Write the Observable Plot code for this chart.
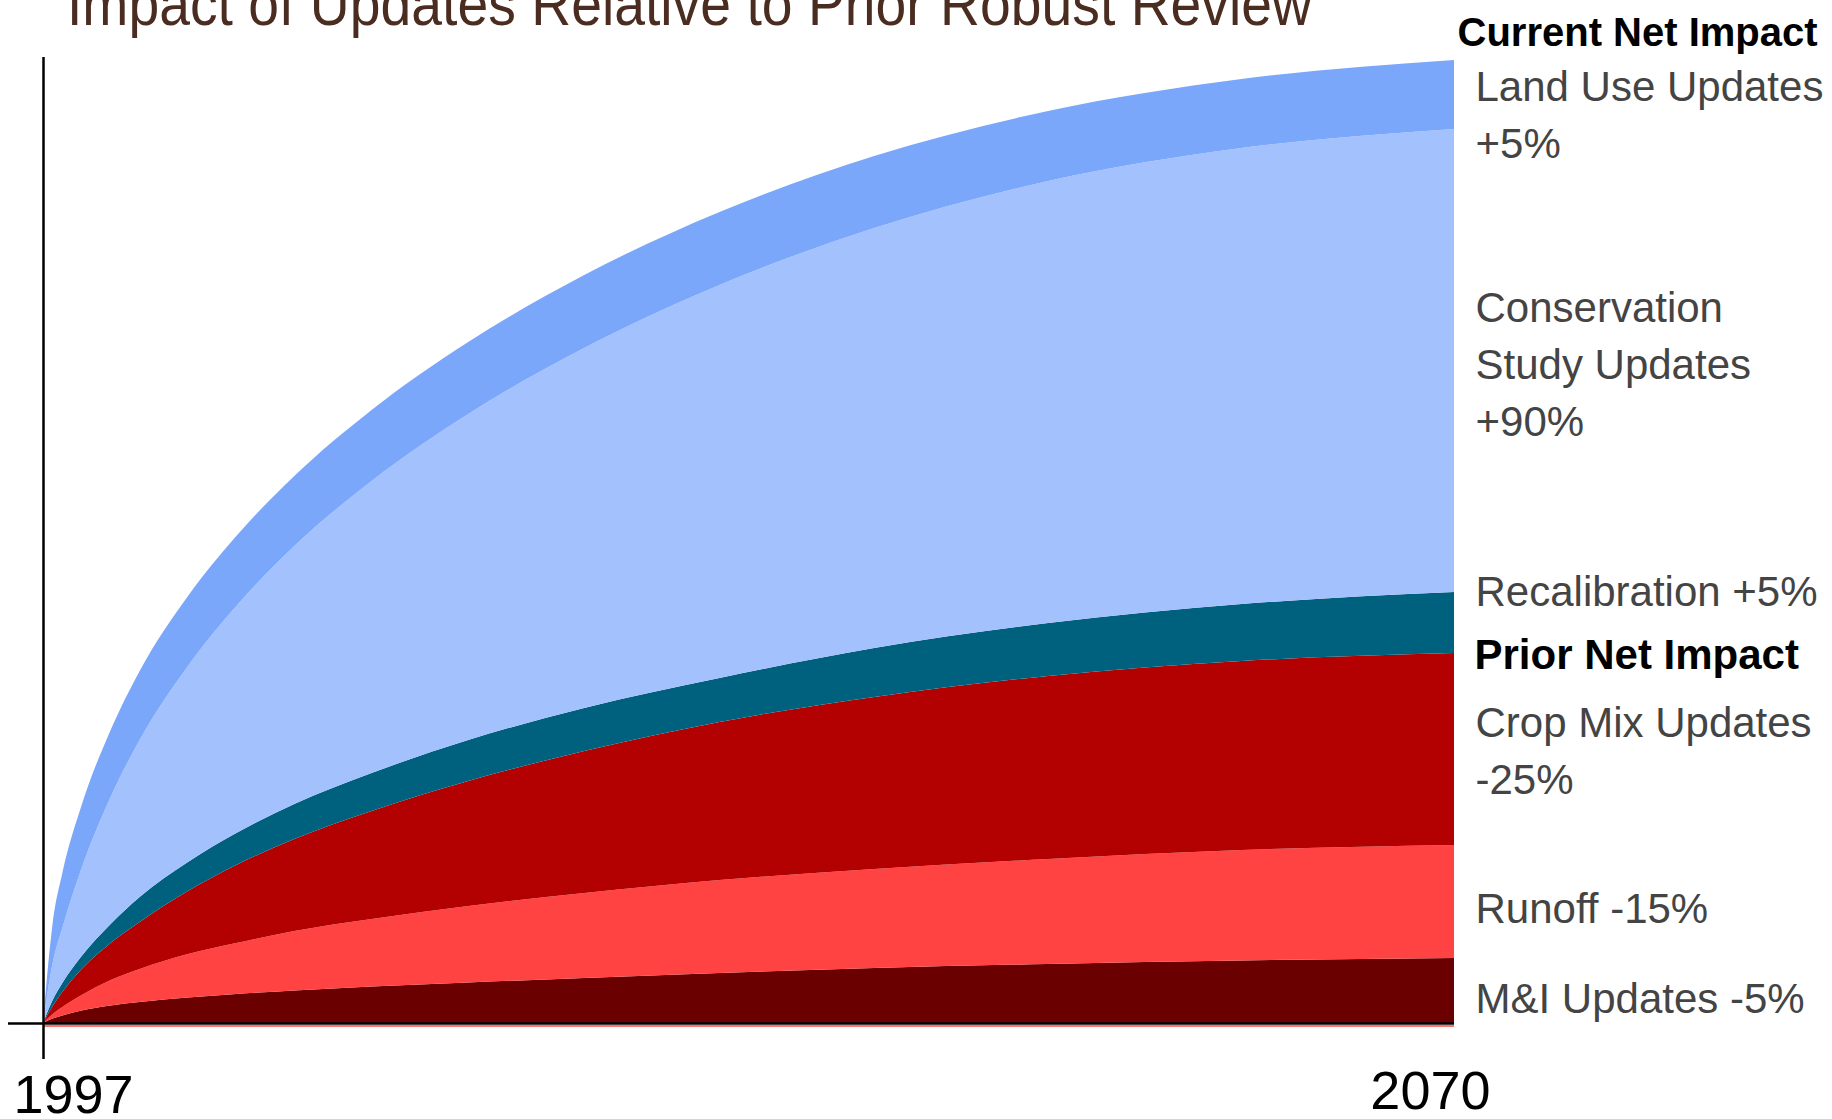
<!DOCTYPE html>
<html>
<head>
<meta charset="utf-8">
<script src="https://cdn.jsdelivr.net/npm/d3@7"></script>
<script src="https://cdn.jsdelivr.net/npm/@observablehq/plot@0.6"></script>
<style>
  html, body { margin: 0; padding: 0; background: #fff; overflow: hidden; }
  #wrap { position: relative; width: 1832px; height: 1119px; overflow: hidden; background: #fff; }
  #title { position: absolute; left: 67px; top: -27.5px; font-family: "Liberation Sans", Arial, sans-serif;
           font-size: 62px; line-height: 62px; color: #4a2c20; white-space: nowrap; transform-origin: 0 0; }
</style>
</head>
<body>
<div id="wrap">
  <div id="chart"></div>
  <div id="title">Impact of Updates Relative to Prior Robust Review</div>
</div>
<script>
// ---- Data (band thickness per series, bottom to top) ----
const years   = [1997, 1997.5, 1998, 1999, 2000.5, 2002, 2004.5, 2007, 2010, 2014, 2019, 2025, 2032, 2040, 2049, 2059, 2070];
const mi      = [0, 4.5, 7.5, 12.5, 17.5, 21, 25.5, 29, 32.5, 36.5, 40.5, 45, 50, 55, 59, 62.5, 65];
const runoff  = [0, 4.5, 8.5, 15.5, 25.5, 33, 43.5, 51, 59.5, 67.5, 76.5, 85, 93, 99, 105, 110.5, 113];
const cropMix = [0, 8, 15, 26, 37, 47, 63, 78, 92, 108, 125, 142, 158, 172, 183, 189, 192];
const recal   = [0, 6, 9, 13, 19, 25, 29, 32, 35, 38, 41, 43, 44, 49, 53, 57, 61];
const conserv = [0, 37, 55, 88, 127, 157, 196, 227, 258, 292, 326, 360, 393, 420, 442, 456, 463];
const landUse = [0, 40, 55, 63, 67, 69, 70, 70, 70, 71, 72, 73, 73, 72, 70, 69, 69];

const seriesNames = ["M&I Updates", "Runoff", "Crop Mix Updates", "Recalibration", "Conservation Study Updates", "Land Use Updates"];
const seriesValues = [mi, runoff, cropMix, recal, conserv, landUse];
const seriesColors = ["#6b0000", "#ff4343", "#b30000", "#00617f", "#a3c1fd", "#7ba7fb"];

const xTicks = [1997, 2070];

const labelTexts = ["Land Use Updates\n+5%", "Conservation\nStudy Updates\n+90%", "Recalibration +5%", "Crop Mix Updates\n-25%", "Runoff -15%", "M&I Updates -5%"];
const labelY     = [866, 588, 418, 230, 101, 11];
const boldTexts  = ["Current Net Impact", "Prior Net Impact"];
const boldY      = [978, 355];

// ---- Build tidy table ----
const rows = [];
seriesNames.forEach((s, i) => {
  years.forEach((yr, j) => rows.push({series: s, year: yr, value: seriesValues[i][j]}));
});

const chart = Plot.plot({
  width: 1832,
  height: 1119,
  marginLeft: 43,
  marginRight: 378,
  marginTop: 57,
  marginBottom: 96,
  x: {domain: [1997, 2070], axis: null},
  y: {domain: [0, 966], axis: null},
  color: {domain: seriesNames, range: seriesColors},
  style: {background: "white", fontFamily: "'Liberation Sans', Arial, sans-serif", overflow: "visible"},
  marks: [
    Plot.areaY(rows, {x: "year", y: "value", fill: "series", order: seriesNames, curve: "monotone-x"}),
    Plot.ruleY([0], {x1: 1997, x2: 2070, stroke: "#ff4343", strokeWidth: 1.5, dy: 2.5}),
    Plot.ruleY([0], {x1: 1997 - 35 / 19.33, x2: 2070, stroke: "black", strokeWidth: 2.5}),
    Plot.ruleX([1997], {y1: -36, y2: 966, stroke: "black", strokeWidth: 2.5}),
    Plot.text([xTicks[0]], {x: d => d, text: d => String(d), frameAnchor: "bottom", lineAnchor: "bottom",
      dy: 89, dx: -30, textAnchor: "start", fontSize: 54, fill: "black"}),
    Plot.text([xTicks[1]], {x: d => d, text: d => String(d), frameAnchor: "bottom", lineAnchor: "bottom",
      dy: 85, dx: 36, textAnchor: "end", fontSize: 54, fill: "black"}),
    Plot.text(labelTexts, {x: 2070, y: (d, i) => labelY[i], text: d => d, textAnchor: "start", lineAnchor: "bottom",
      dx: 21, fontSize: 42, lineHeight: 1.357, fill: "#444444"}),
    Plot.text([boldTexts[0]], {x: 2070, y: boldY[0], text: d => d, textAnchor: "start", lineAnchor: "bottom",
      dx: 3, fontSize: 40, fontWeight: "bold", fill: "black"}),
    Plot.text([boldTexts[1]], {x: 2070, y: boldY[1], text: d => d, textAnchor: "start", lineAnchor: "bottom",
      dx: 20, fontSize: 42, fontWeight: "bold", fill: "black"})
  ]
});
document.getElementById("chart").appendChild(chart);

const t = document.getElementById("title");
const w = t.getBoundingClientRect().width;
t.style.transform = `scaleX(${1245 / w})`;
</script>
</body>
</html>
